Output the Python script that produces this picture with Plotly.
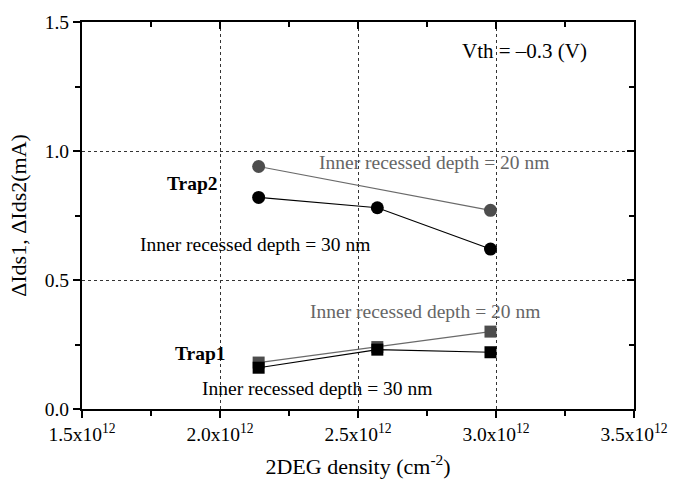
import plotly.graph_objects as go

# Data
density = [2.14e12, 2.57e12, 2.98e12]
trap2_20nm = [0.94, None, 0.77]
trap2_30nm = [0.82, 0.78, 0.62]
trap1_20nm = [0.18, 0.24, 0.30]
trap1_30nm = [0.16, 0.23, 0.22]

x_ticks = [1.5e12, 2.0e12, 2.5e12, 3.0e12, 3.5e12]
x_ticktext = ["1.5x10<sup>12</sup>", "2.0x10<sup>12</sup>", "2.5x10<sup>12</sup>",
              "3.0x10<sup>12</sup>", "3.5x10<sup>12</sup>"]
y_ticks = [0.0, 0.5, 1.0, 1.5]
y_ticktext = ["0.0", "0.5", "1.0", "1.5"]

FONT = "Liberation Serif"
GRAY_M = "#4d4d4d"
GRAY_L = "#6a6a6a"

fig = go.Figure()

def xy(xs, ys):
    px, py = [], []
    for a, b in zip(xs, ys):
        if b is not None:
            px.append(a); py.append(b)
    return px, py

# Trap2 series
x, y = xy(density, trap2_20nm)
fig.add_trace(go.Scatter(x=x, y=y, mode="lines+markers",
                         line=dict(color=GRAY_L, width=1.2),
                         marker=dict(symbol="circle", size=13, color=GRAY_M),
                         showlegend=False))
fig.add_trace(go.Scatter(x=density, y=trap2_30nm, mode="lines+markers",
                         line=dict(color="black", width=1.2),
                         marker=dict(symbol="circle", size=13, color="black"),
                         showlegend=False))
# Trap1 series
fig.add_trace(go.Scatter(x=density, y=trap1_20nm, mode="lines+markers",
                         line=dict(color=GRAY_L, width=1.2),
                         marker=dict(symbol="square", size=12, color=GRAY_M),
                         showlegend=False))
fig.add_trace(go.Scatter(x=density, y=trap1_30nm, mode="lines+markers",
                         line=dict(color="black", width=1.2),
                         marker=dict(symbol="square", size=12, color="black"),
                         showlegend=False))

# helper invisible trace for the mirrored (inside-tick) axes
fig.add_trace(go.Scatter(x=[None], y=[None], xaxis="x2", yaxis="y2",
                         showlegend=False, hoverinfo="skip"))

xr = [1.5e12, 3.5e12]
yr = [0.0, 1.5]
grid = dict(showgrid=True, gridcolor="#333333", gridwidth=1, griddash="3px,3px")
tickf = dict(family=FONT, size=19.5, color="black")
titlef = dict(family=FONT, size=22, color="black")

fig.update_layout(
    width=681, height=487,
    margin=dict(l=82, r=47, t=17, b=78),
    paper_bgcolor="white", plot_bgcolor="white",
    font=dict(family=FONT, size=19, color="black"),
    xaxis=dict(range=xr, tickmode="array", tickvals=x_ticks, ticktext=x_ticktext,
               ticks="outside", ticklen=7, tickwidth=1.5, tickcolor="black",
               showline=True, linecolor="black", linewidth=2, zeroline=False,
               minor=dict(tick0=1.5e12, dtick=0.25e12, ticks="outside", ticklen=5,
                          tickwidth=1.5, tickcolor="black", showgrid=False),
               title=dict(text="2DEG density (cm<sup>-2</sup>)", font=titlef, standoff=14),
               tickfont=tickf, **grid),
    yaxis=dict(range=yr, tickmode="array", tickvals=y_ticks, ticktext=y_ticktext,
               ticks="outside", ticklen=7, tickwidth=1.5, tickcolor="black",
               showline=True, linecolor="black", linewidth=2, zeroline=False,
               minor=dict(tick0=0, dtick=0.25, ticks="outside", ticklen=5,
                          tickwidth=1.5, tickcolor="black", showgrid=False),
               title=dict(text="ΔIds1, ΔIds2(mA)", font=titlef, standoff=12),
               tickfont=tickf, **grid),
    xaxis2=dict(range=xr, overlaying="x", side="top", showticklabels=False,
                tickmode="array", tickvals=x_ticks, ticks="inside", ticklen=7,
                tickwidth=1.5, tickcolor="black", showline=True, linecolor="black",
                linewidth=2, showgrid=False, zeroline=False,
                minor=dict(tick0=1.5e12, dtick=0.25e12, ticks="inside", ticklen=5,
                           tickwidth=1.5, tickcolor="black", showgrid=False)),
    yaxis2=dict(range=yr, overlaying="y", side="right", showticklabels=False,
                tickmode="array", tickvals=y_ticks, ticks="inside", ticklen=7,
                tickwidth=1.5, tickcolor="black", showline=True, linecolor="black",
                linewidth=2, showgrid=False, zeroline=False,
                minor=dict(tick0=0, dtick=0.25, ticks="inside", ticklen=5,
                           tickwidth=1.5, tickcolor="black", showgrid=False)),
)

ann_font = dict(family=FONT, size=19.5)
annotations = [
    dict(x=3.105e12, y=1.387, text="Vth = \u20130.3 (V)", font=dict(color="black", family=FONT, size=21)),
    dict(x=2.775e12, y=0.954, text="Inner recessed depth = 20 nm", font=dict(color="#666666", **ann_font)),
    dict(x=1.902e12, y=0.874, text="<b>Trap2</b>", font=dict(color="black", **ann_font)),
    dict(x=2.125e12, y=0.636, text="Inner recessed depth = 30 nm", font=dict(color="black", **ann_font)),
    dict(x=2.743e12, y=0.379, text="Inner recessed depth = 20 nm", font=dict(color="#666666", **ann_font)),
    dict(x=1.929e12, y=0.215, text="<b>Trap1</b>", font=dict(color="black", **ann_font)),
    dict(x=2.351e12, y=0.080, text="Inner recessed depth = 30 nm", font=dict(color="black", **ann_font)),
]
for a in annotations:
    fig.add_annotation(xref="x", yref="y", showarrow=False, **a)

fig.write_html("out.html")
